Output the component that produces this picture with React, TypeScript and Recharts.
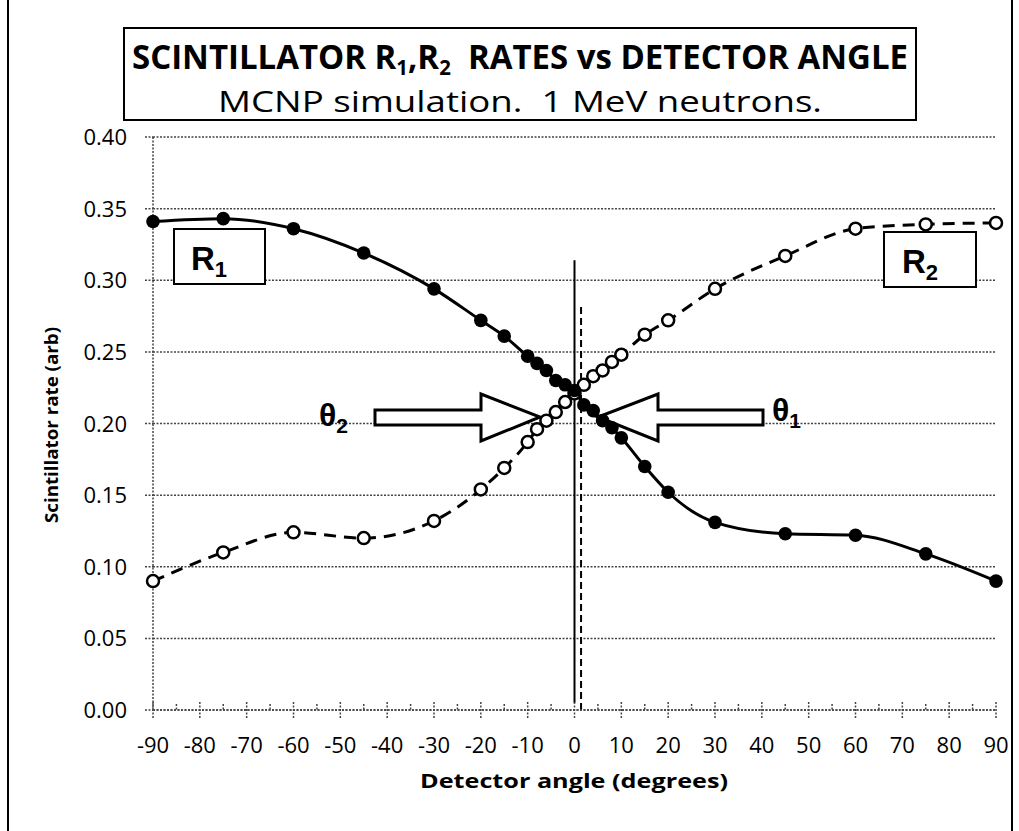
import { CartesianGrid, Customized, Line, LineChart, ReferenceLine, XAxis, YAxis } from "recharts"

const angles = [-90, -75, -60, -45, -30, -20, -15, -10, -8, -6, -4, -2, 0, 2, 4, 6, 8, 10, 15, 20, 30, 45, 60, 75, 90]
const r1 = [0.341, 0.343, 0.336, 0.319, 0.294, 0.272, 0.261, 0.247, 0.242, 0.237, 0.230, 0.227, 0.223, 0.213, 0.209, 0.202, 0.197, 0.190, 0.170, 0.152, 0.131, 0.123, 0.122, 0.109, 0.090]
const r2 = [0.090, 0.110, 0.124, 0.120, 0.132, 0.154, 0.169, 0.187, 0.196, 0.202, 0.208, 0.215, 0.221, 0.227, 0.233, 0.237, 0.243, 0.248, 0.262, 0.272, 0.294, 0.317, 0.336, 0.339, 0.340]

const xTicks = [-90, -85, -80, -75, -70, -65, -60, -55, -50, -45, -40, -35, -30, -25, -20, -15, -10, -5, 0, 5, 10, 15, 20, 25, 30, 35, 40, 45, 50, 55, 60, 65, 70, 75, 80, 85, 90]
const yTicks = [0, 0.05, 0.1, 0.15, 0.2, 0.25, 0.3, 0.35, 0.4]

const title = "SCINTILLATOR R"
const subtitle = "MCNP simulation.  1 MeV neutrons."
const xTitle = "Detector angle (degrees)"
const yTitle = "Scintillator rate (arb)"

const data = angles.map((a, i) => ({ a, r1: r1[i], r2: r2[i] }))

const tickFont = "'Open Sans', sans-serif"
const gridStroke = { stroke: "#444", strokeWidth: 1.5, strokeDasharray: "2 1.5" }

function XTick({ x, y, payload }: any) {
  const v = payload.value
  const major = v % 10 === 0
  return (
    <g>
      <line x1={x} x2={x} y1={y - (major ? 8 : 6)} y2={y + (major ? 8 : 0)} {...gridStroke} />
      {major && (
        <text x={x} y={y + 43} textAnchor="middle" fontSize={22} fontFamily={tickFont} fill="#000">
          {String(v)}
        </text>
      )}
    </g>
  )
}

function YTick({ x, y, payload }: any) {
  return (
    <g>
      <line x1={x - 8} x2={x} y1={y} y2={y} {...gridStroke} />
      <text x={x - 26} y={y + 8} textAnchor="end" fontSize={22} fontFamily={tickFont} fill="#000">
        {payload.value.toFixed(2)}
      </text>
    </g>
  )
}

function FilledDot({ cx, cy, index }: any) {
  return <circle key={"f" + index} cx={cx} cy={cy} r={6.8} fill="#000" />
}

function OpenDot({ cx, cy, index }: any) {
  return <circle key={"o" + index} cx={cx} cy={cy} r={6} fill="#fff" stroke="#000" strokeWidth={2.5} />
}

function Arrows() {
  return (
    <g fill="#fff" stroke="#000" strokeWidth={3} strokeLinejoin="miter">
      <polygon points="375,410 481,410 481,394 540,417 481,441 481,425 375,425" />
      <polygon points="763,410 658,410 658,394 598,417 658,441 658,425 763,425" />
    </g>
  )
}

function Overlay() {
  const label = { fontFamily: "'Liberation Sans', Arial, sans-serif", fontWeight: 700, fill: "#000" }
  return (
    <svg width={1019} height={831} style={{ position: "absolute", left: 0, top: 0, pointerEvents: "none" }}>
      <line x1={8} x2={8} y1={0} y2={831} stroke="#000" strokeWidth={2} />
      <line x1={1012} x2={1012} y1={0} y2={831} stroke="#000" strokeWidth={2} />
      <rect x={124} y={28} width={792} height={92} fill="#fff" stroke="#000" strokeWidth={2} />
      <text x={520} y={69} textAnchor="middle" fontSize={34} fontWeight={700} fontFamily={tickFont}
        textLength={776} lengthAdjust="spacingAndGlyphs" style={{ whiteSpace: "pre" }}>
        {title}
        <tspan fontSize={21} dy={6}>1</tspan>
        <tspan fontSize={34} dy={-6}>,R</tspan>
        <tspan fontSize={21} dy={6}>2</tspan>
        <tspan fontSize={34} dy={-6}>{"  RATES vs DETECTOR ANGLE"}</tspan>
      </text>
      <text x={520} y={112} textAnchor="middle" fontSize={29} fontFamily={tickFont}
        textLength={604} lengthAdjust="spacingAndGlyphs" style={{ whiteSpace: "pre" }}>
        {subtitle}
      </text>
      <text x={574} y={788} textAnchor="middle" fontSize={20} fontWeight={700} fontFamily={tickFont}
        textLength={308} lengthAdjust="spacingAndGlyphs">
        {xTitle}
      </text>
      <text x={0} y={0} transform="translate(58,425) rotate(-90)" textAnchor="middle" fontSize={18} fontWeight={700}
        fontFamily={tickFont} textLength={196} lengthAdjust="spacingAndGlyphs">
        {yTitle}
      </text>
      <rect x={174} y={229} width={91} height={55} fill="#fff" stroke="#000" strokeWidth={2} />
      <text x={191} y={270} fontSize={33} {...label}>R<tspan fontSize={22} dy={7}>1</tspan></text>
      <rect x={884} y={232} width={92} height={55} fill="#fff" stroke="#000" strokeWidth={2} />
      <text x={902} y={273} fontSize={33} {...label}>R<tspan fontSize={22} dy={7}>2</tspan></text>
      <text x={772} y={421} fontSize={32} {...label}>θ<tspan fontSize={21} dy={7}>1</tspan></text>
      <text x={319} y={426} fontSize={32} {...label}>θ<tspan fontSize={21} dy={7}>2</tspan></text>
    </svg>
  )
}

export default function App() {
  return (
    <div style={{ position: "absolute", left: 0, top: 0, width: 1019, height: 831, background: "#fff" }}>
      <LineChart width={1019} height={831} data={data} margin={{ top: 137, right: 23, bottom: 0, left: 73 }}>
        <CartesianGrid vertical={false} {...gridStroke} />
        <XAxis dataKey="a" type="number" domain={[-90, 90]} ticks={xTicks} interval={0} height={121}
          tickSize={0} tickMargin={0} tick={<XTick />} axisLine={gridStroke} />
        <YAxis type="number" domain={[0, 0.4]} ticks={yTicks} interval={0} width={80}
          tickSize={0} tickMargin={0} tick={<YTick />} axisLine={gridStroke} />
        <Customized component={<Arrows />} />
        <ReferenceLine segment={[{ x: 0, y: 0.005 }, { x: 0, y: 0.314 }]} stroke="#000" strokeWidth={2} />
        <ReferenceLine segment={[{ x: 1.4, y: 0 }, { x: 1.4, y: 0.283 }]} stroke="#000" strokeWidth={2} strokeDasharray="7 4" />
        <Line type="monotone" dataKey="r2" stroke="#000" strokeWidth={3} strokeDasharray="12 8" dot={<OpenDot />} isAnimationActive={false} />
        <Line type="monotone" dataKey="r1" stroke="#000" strokeWidth={3} dot={<FilledDot />} isAnimationActive={false} />
      </LineChart>
      <Overlay />
    </div>
  )
}
